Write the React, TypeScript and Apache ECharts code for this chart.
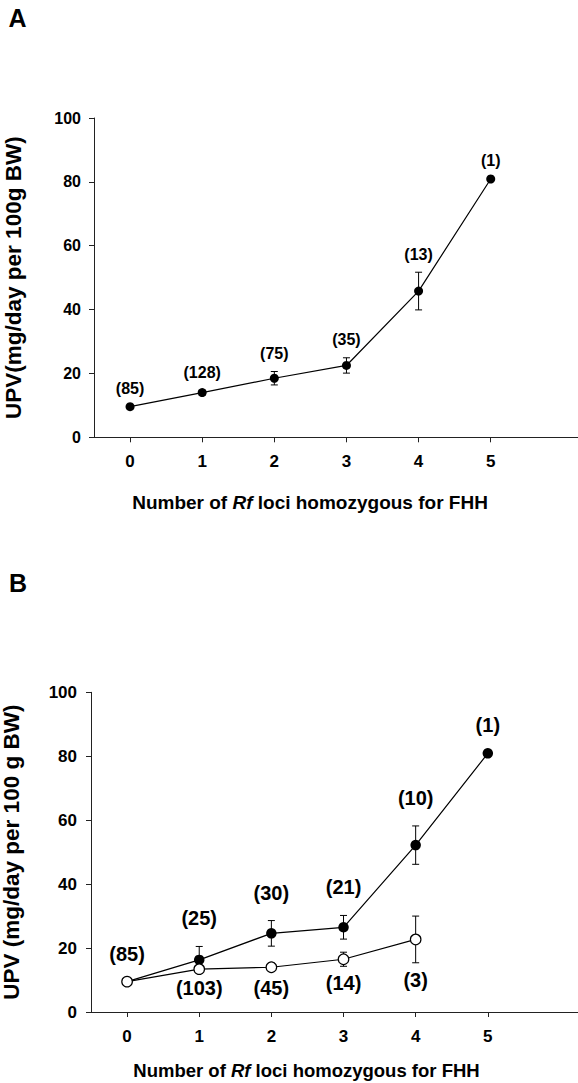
import React, { useEffect, useRef } from "react";
import * as echarts from "echarts";

const xLoci = [0, 1, 2, 3, 4, 5];

// Panel A
const upvA = [9.6, 14.0, 18.5, 22.5, 45.8, 80.9];
const semA = [0, 0.8, 2.1, 2.4, 5.9, 0];
const nA = ["(85)", "(128)", "(75)", "(35)", "(13)", "(1)"];

// Panel B
const xLociOpen = [0, 1, 2, 3, 4];
const upvBFilled = [9.5, 16.3, 24.6, 26.5, 52.2, 80.9];
const semBFilled = [0, 4.2, 4.0, 3.7, 6.0, 0];
const nBFilled = ["(85)", "(25)", "(30)", "(21)", "(10)", "(1)"];
const upvBOpen = [9.5, 13.4, 14.0, 16.5, 22.7];
const semBOpen = [0, 0.7, 1.3, 2.2, 7.3];
const nBOpen = ["", "(103)", "(45)", "(14)", "(3)"];

const FONT = "'Liberation Sans', Arial, Helvetica, sans-serif";
const INK = "#000";
const AXIS = "#222";

function errSeries(
  xs: number[],
  ys: number[],
  es: number[],
  labels: string[],
  where: "above" | "below",
  gap: number,
  fontSize: number,
  axisIdx: number
) {
  return {
    type: "custom",
    xAxisIndex: axisIdx,
    yAxisIndex: axisIdx,
    z: 1,
    clip: false,
    encode: { x: 0, y: 1 },
    data: xs.map((x, i) => [x, ys[i], es[i]]),
    renderItem: (params: any, api: any) => {
      const x = api.value(0);
      const y = api.value(1);
      const e = api.value(2);
      const top = api.coord([x, y + e]);
      const bot = api.coord([x, y - e]);
      const children: any[] = [];
      const cap = 3.5;
      const ls = { stroke: INK, lineWidth: 1 };
      if (e > 0) {
        children.push({ type: "line", shape: { x1: top[0], y1: top[1], x2: bot[0], y2: bot[1] }, style: ls });
        children.push({ type: "line", shape: { x1: top[0] - cap, y1: top[1], x2: top[0] + cap, y2: top[1] }, style: ls });
        children.push({ type: "line", shape: { x1: bot[0] - cap, y1: bot[1], x2: bot[0] + cap, y2: bot[1] }, style: ls });
      }
      const lbl = labels[params.dataIndex];
      if (lbl) {
        children.push({
          type: "text",
          x: top[0],
          y: where === "above" ? top[1] - gap : bot[1] + gap,
          style: {
            text: lbl,
            fill: INK,
            fontSize,
            fontWeight: "bold",
            fontFamily: FONT,
            align: "center",
            verticalAlign: "middle",
            textAlign: "center",
            textVerticalAlign: "middle",
          },
        });
      }
      return { type: "group", children };
    },
  };
}

function xAxisCfg(idx: number, max: number, fontSize: number) {
  return {
    type: "value",
    gridIndex: idx,
    min: -0.5,
    max,
    axisLine: { show: true, onZero: false, lineStyle: { color: AXIS, width: 1 } },
    axisTick: { show: true, customValues: xLoci, length: 5, inside: false, lineStyle: { color: AXIS } },
    axisLabel: {
      customValues: xLoci,
      margin: 16,
      color: INK,
      fontSize,
      fontWeight: "bold",
      fontFamily: FONT,
    },
    splitLine: { show: false },
  };
}

function yAxisCfg(idx: number, name: string, nameGap: number, labelSize: number, margin: number) {
  return {
    type: "value",
    gridIndex: idx,
    min: 0,
    max: 100,
    interval: 20,
    name,
    nameLocation: "middle",
    nameRotate: 90,
    nameGap,
    nameTextStyle: { color: INK, fontSize: 22.5, fontWeight: "bold", fontFamily: FONT },
    axisLine: { show: true, onZero: false, lineStyle: { color: AXIS, width: 1 } },
    axisTick: { show: true, length: 5, inside: false, lineStyle: { color: AXIS } },
    axisLabel: { margin, color: INK, fontSize: labelSize, fontWeight: "bold", fontFamily: FONT },
    splitLine: { show: false },
  };
}

function xTitle(x: number, y: number, size: number) {
  return {
    type: "text",
    x,
    y,
    style: {
      text: "{b|Number of }{i|Rf}{b| loci homozygous for FHH}",
      align: "center",
      verticalAlign: "middle",
      textAlign: "center",
      textVerticalAlign: "middle",
      rich: {
        b: { fontSize: size, fontWeight: "bold", fontFamily: FONT, fill: INK, color: INK },
        i: { fontSize: size, fontWeight: "bold", fontStyle: "italic", fontFamily: FONT, fill: INK, color: INK },
      },
    },
  };
}

export default function App() {
  const ref = useRef<HTMLDivElement>(null);
  useEffect(() => {
    if (!ref.current) return;
    const chart = echarts.init(ref.current, undefined, { renderer: "svg" });
    const option: any = {
      animation: false,
      backgroundColor: "#fff",
      grid: [
        { left: 94, top: 118, width: 484, height: 319.3, outerBoundsMode: "none", containLabel: false },
        { left: 91, top: 692.3, width: 487, height: 319.7, outerBoundsMode: "none", containLabel: false },
      ],
      xAxis: [xAxisCfg(0, 6.21, 17), xAxisCfg(1, 6.25, 17)],
      yAxis: [
        yAxisCfg(0, "UPV(mg/day per 100g BW)", 69, 16, 13),
        yAxisCfg(1, "UPV (mg/day per 100 g BW)", 68, 17, 14),
      ],
      graphic: [
        { type: "text", x: 17.5, y: 18, style: { text: "A", fill: INK, fontSize: 25, fontWeight: "bold", fontFamily: FONT, align: "center", verticalAlign: "middle" } },
        { type: "text", x: 18, y: 583, style: { text: "B", fill: INK, fontSize: 25, fontWeight: "bold", fontFamily: FONT, align: "center", verticalAlign: "middle" } },
        xTitle(310, 502, 19),
        xTitle(306.5, 1070, 18.5),
      ],
      series: [
        errSeries(xLoci, upvA, semA, nA, "above", 18, 16, 0),
        {
          type: "line",
          xAxisIndex: 0,
          yAxisIndex: 0,
          z: 3,
          data: xLoci.map((x, i) => [x, upvA[i]]),
          symbol: "circle",
          symbolSize: 9,
          itemStyle: { color: INK },
          lineStyle: { color: INK, width: 1.2 },
        },
        errSeries(xLoci, upvBFilled, semBFilled, nBFilled, "above", 28, 20, 1),
        errSeries(xLociOpen, upvBOpen, semBOpen, nBOpen, "below", 17, 20, 1),
        {
          type: "line",
          xAxisIndex: 1,
          yAxisIndex: 1,
          z: 3,
          data: xLoci.map((x, i) => [x, upvBFilled[i]]),
          symbol: "circle",
          symbolSize: 10.5,
          itemStyle: { color: INK },
          lineStyle: { color: INK, width: 1.2 },
        },
        {
          type: "line",
          xAxisIndex: 1,
          yAxisIndex: 1,
          z: 4,
          data: xLociOpen.map((x, i) => [x, upvBOpen[i]]),
          symbol: "circle",
          symbolSize: 10.5,
          itemStyle: { color: "#fff", borderColor: INK, borderWidth: 1.2 },
          lineStyle: { color: INK, width: 1.2 },
        },
      ],
    };
    chart.setOption(option);
    return () => chart.dispose();
  }, []);
  return (
    <div
      ref={ref}
      style={{ position: "absolute", left: 0, top: 0, width: 578, height: 1083, background: "#fff" }}
    />
  );
}
